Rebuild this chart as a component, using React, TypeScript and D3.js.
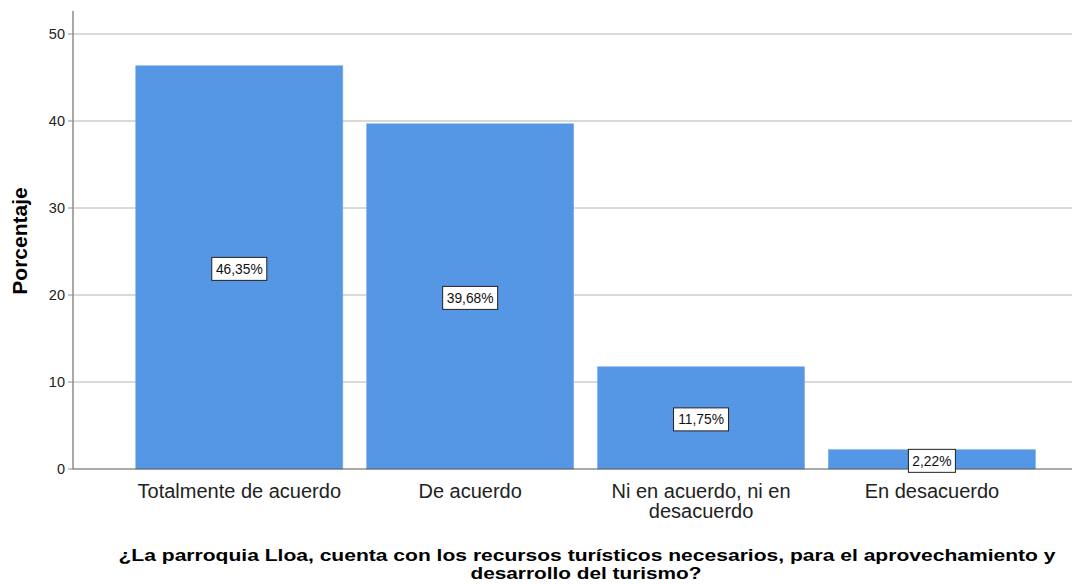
import React from "react";
import * as d3 from "d3";

const categories = ["Totalmente de acuerdo", "De acuerdo", "Ni en acuerdo, ni en desacuerdo", "En desacuerdo"];
const categoryLines = [["Totalmente de acuerdo"], ["De acuerdo"], ["Ni en acuerdo, ni en", "desacuerdo"], ["En desacuerdo"]];
const values = [46.35, 39.68, 11.75, 2.22];
const valueLabels = ["46,35%", "39,68%", "11,75%", "2,22%"];
const yTicks = [0, 10, 20, 30, 40, 50];
const yTitle = "Porcentaje";
const xTitleLines = [
  "¿La parroquia Lloa, cuenta con los recursos turísticos necesarios, para el aprovechamiento y",
  "desarrollo del turismo?",
];

export default function App() {
  const W = 1086, H = 584;
  const axisX = 73, plotRight = 1072, plotTop = 11;
  const y = d3.scaleLinear().domain([0, 50]).range([469, 34]);
  const x = d3.scaleBand<string>().domain(categories).range([124.2, 1047]).paddingInner(0.103).paddingOuter(0.05);
  const font = "Liberation Sans, Arial, sans-serif";
  return (
    <svg width={W} height={H} style={{ position: "absolute", left: 0, top: 0, background: "#fff" }} fontFamily={font}>
      {yTicks.map((t) => (
        <g key={t}>
          {t > 0 && <line x1={axisX} x2={plotRight} y1={y(t)} y2={y(t)} stroke="#b4b4b4" strokeWidth={1} />}
          <line x1={axisX - 5} x2={axisX} y1={y(t)} y2={y(t)} stroke="#8c8c8c" strokeWidth={1} />
          <text x={axisX - 8} y={y(t)} dy="0.36em" textAnchor="end" fontSize={14.5} fill="#222">{t}</text>
        </g>
      ))}
      {categories.map((c, i) => (
        <rect key={c} x={x(c)} y={y(values[i])} width={x.bandwidth()} height={y(0) - y(values[i])} fill="#5596e5" stroke="#7aaeea" strokeWidth={0.6} />
      ))}
      <line x1={axisX} x2={axisX} y1={plotTop} y2={y(0)} stroke="#8c8c8c" strokeWidth={1.5} />
      <line x1={axisX} x2={plotRight} y1={y(0)} y2={y(0)} stroke="#555" strokeWidth={1} />
      {categories.map((c, i) => {
        const cx = (x(c) as number) + x.bandwidth() / 2;
        const cy = (y(values[i]) + y(0)) / 2 + 1.5;
        const w = valueLabels[i].length > 5 ? 55 : 47;
        return (
          <g key={c + "l"}>
            <rect x={cx - w / 2} y={cy - 11.5} width={w} height={23} fill="#fff" stroke="#222" strokeWidth={1} />
            <text x={cx} y={cy} dy="0.36em" textAnchor="middle" fontSize={13.8} fill="#111">{valueLabels[i]}</text>
          </g>
        );
      })}
      {categories.map((c, i) => {
        const cx = (x(c) as number) + x.bandwidth() / 2;
        return (
          <text key={c + "t"} x={cx} y={498} textAnchor="middle" fontSize={20} fill="#222">
            {categoryLines[i].map((l, j) => (
              <tspan key={j} x={cx} dy={j === 0 ? 0 : 20}>{l}</tspan>
            ))}
          </text>
        );
      })}
      <text transform={`translate(27,${241}) rotate(-90)`} textAnchor="middle" fontSize={21} fontWeight="bold" fill="#000">{yTitle}</text>
      <text x={587} y={561} textAnchor="middle" fontSize={17} fontWeight="bold" fill="#000">
        <tspan x={587} textLength={937} lengthAdjust="spacingAndGlyphs">{xTitleLines[0]}</tspan>
      </text>
      <text x={586} y={579} textAnchor="middle" fontSize={17} fontWeight="bold" fill="#000">
        <tspan x={586} textLength={231} lengthAdjust="spacingAndGlyphs">{xTitleLines[1]}</tspan>
      </text>
    </svg>
  );
}
